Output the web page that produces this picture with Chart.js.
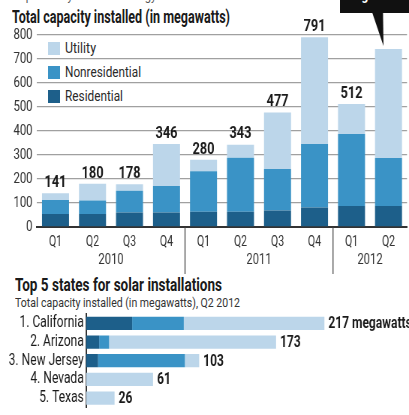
<!DOCTYPE html>
<html>
<head>
<meta charset="utf-8">
<script src="https://cdn.jsdelivr.net/npm/chart.js@4.4.1/dist/chart.umd.min.js"></script>
<style>
  html,body{margin:0;padding:0;background:#fff;overflow:hidden;width:409px;height:415px;}
  body{position:relative;font-family:Roboto,'Liberation Sans',sans-serif;color:#222;}
  .abs{position:absolute;white-space:nowrap;transform-origin:0 50%;}
  canvas{position:absolute;left:0;}
  .sq{position:absolute;width:12px;height:13px;}
  .lg{position:absolute;font-size:15px;line-height:15px;color:#2a2a2a;white-space:nowrap;transform-origin:0 50%;}
</style>
</head>
<body>
<div class="abs" data-w="257" style="left:13px;top:-11px;font-size:13px;line-height:13px;color:#555;">Reported by the Solar Energy Industries Association</div>
<div class="abs" data-w="218" style="left:12px;top:7px;font-size:18px;line-height:20px;font-weight:bold;color:#1a1a1a;">Total capacity installed (in megawatts)</div>
<div class="abs" style="left:340px;top:-34px;width:80px;height:47px;background:#111;"></div>
<div class="abs" data-w="58" style="left:345px;top:-13px;color:#fff;font-weight:bold;font-size:14px;line-height:17px;">megawatts</div>
<div class="sq" style="left:48px;top:42px;background:#bcd6ea;"></div>
<div class="lg" data-w="31" style="left:65px;top:41px;">Utility</div>
<div class="sq" style="left:48px;top:66px;background:#3a93c6;"></div>
<div class="lg" data-w="76" style="left:65px;top:65px;">Nonresidential</div>
<div class="sq" style="left:48px;top:90px;background:#1d5f8a;"></div>
<div class="lg" data-w="58" style="left:65px;top:89px;">Residential</div>
<div class="abs" data-w="207" style="left:15px;top:274px;font-size:19px;line-height:22px;font-weight:bold;color:#1a1a1a;">Top 5 states for solar installations</div>
<div class="abs" data-w="225" style="left:15px;top:295px;font-size:13px;line-height:15px;color:#333;">Total capacity installed (in megawatts), Q2 2012</div>
<canvas id="c1" width="545" height="275" style="top:0;width:409px;height:275px;"></canvas>
<canvas id="c2" width="545" height="120" style="top:300px;width:409px;height:120px;"></canvas>
<script>
// ---- Data: quarterly capacity ----
const quarters = ['Q1','Q2','Q3','Q4','Q1','Q2','Q3','Q4','Q1','Q2'];
const years = ['2010','2011','2012'];
const yearSpans = [[0,3],[4,7],[8,9]];
const residential    = [54, 54, 60, 60, 64, 64, 69, 81, 88, 88];
const nonresidential = [58, 56, 91, 111, 168, 225, 173, 265, 299, 199];
const utility        = [29, 70, 27, 175, 48, 54, 235, 445, 125, 455];
const totalLabels    = ['141','180','178','346','280','343','477','791','512',null];
const yTicks = [0,100,200,300,400,500,600,700,800];

// ---- Data: top 5 states ----
const states = ['1. California','2. Arizona','3. New Jersey','4. Nevada','5. Texas'];
const stateRes   = [42, 12, 11, 0, 0];
const stateNon   = [47, 9, 79, 0, 0];
const stateUtil  = [128, 152, 13, 61, 26];
const stateLabels = ['217 megawatts','173','103','61','26'];

// fit condensed-looking HTML text
document.querySelectorAll('[data-w]').forEach(el => {
  const w = el.getBoundingClientRect().width;
  el.style.transform = 'scaleX(' + (parseFloat(el.dataset.w) / w) + ')';
});

const K = 409 / 545; // horizontal condensation of canvases
const C_UTIL = '#bcd6ea', C_NON = '#3a93c6', C_RES = '#1d5f8a';
const FONT = "Roboto,'Liberation Sans',sans-serif";
Chart.defaults.font.family = FONT;
Chart.defaults.animation = false;

const topPlugin = {
  id: 'topDecor',
  afterDatasetsDraw(chart) {
    const ctx = chart.ctx, x = chart.scales.x, y = chart.scales.y;
    ctx.save();
    ctx.fillStyle = '#1a1a1a';
    ctx.font = 'bold 17px ' + FONT;
    ctx.textAlign = 'center';
    ctx.textBaseline = 'bottom';
    quarters.forEach((q, i) => {
      if (!totalLabels[i]) return;
      const tot = residential[i] + nonresidential[i] + utility[i];
      ctx.fillText(totalLabels[i], x.getPixelForValue(i), y.getPixelForValue(tot) - 2);
    });
    ctx.font = '15px ' + FONT;
    ctx.fillStyle = '#333';
    ctx.textBaseline = 'middle';
    yearSpans.forEach((s, k) => {
      const cx = (x.getPixelForValue(s[0]) + x.getPixelForValue(s[1])) / 2;
      ctx.fillText(years[k], cx, 260);
      if (k > 0) {
        const sx = (x.getPixelForValue(s[0] - 1) + x.getPixelForValue(s[0])) / 2;
        ctx.strokeStyle = '#444';
        ctx.lineWidth = 1.3;
        ctx.beginPath();
        ctx.moveTo(sx, y.getPixelForValue(0));
        ctx.lineTo(sx, 274);
        ctx.stroke();
      }
    });
    // callout pointer
    const last = quarters.length - 1;
    const tipX = x.getPixelForValue(last) - 5 / K;
    const tipY = y.getPixelForValue(residential[last] + nonresidential[last] + utility[last]) - 3;
    ctx.fillStyle = '#111';
    ctx.beginPath();
    ctx.moveTo(372 / K, 12);
    ctx.lineTo(383 / K, 12);
    ctx.lineTo(tipX, tipY);
    ctx.closePath();
    ctx.fill();
    ctx.restore();
  }
};

new Chart(document.getElementById('c1'), {
  type: 'bar',
  data: {
    labels: quarters,
    datasets: [
      { label: 'Residential', data: residential, backgroundColor: C_RES },
      { label: 'Nonresidential', data: nonresidential, backgroundColor: C_NON },
      { label: 'Utility', data: utility, backgroundColor: C_UTIL }
    ]
  },
  options: {
    responsive: false,
    devicePixelRatio: 1,
    layout: { padding: { top: 35, right: 2 / K, left: 0, bottom: 0 } },
    plugins: { legend: { display: false }, tooltip: { enabled: false } },
    datasets: { bar: { barPercentage: 0.73, categoryPercentage: 1.0 } },
    scales: {
      x: {
        stacked: true,
        grid: { display: false, drawTicks: false },
        border: { display: true, color: '#333', width: 2 },
        ticks: { color: '#333', font: { size: 14 }, padding: 7, maxRotation: 0, autoSkip: false },
        afterFit(s) { s.height = 48; }
      },
      y: {
        stacked: true,
        min: 0, max: 800,
        afterBuildTicks(s) { s.ticks = yTicks.map(v => ({ value: v })); },
        grid: { color: '#a0a0a0', lineWidth: 1.3, drawTicks: false },
        border: { display: false },
        ticks: { color: '#333', font: { size: 15 }, padding: 6 },
        afterFit(s) { s.width = 37 / K; }
      }
    }
  },
  plugins: [topPlugin]
});

const botPlugin = {
  id: 'botDecor',
  afterDatasetsDraw(chart) {
    const ctx = chart.ctx, x = chart.scales.x, y = chart.scales.y;
    ctx.save();
    ctx.fillStyle = '#1a1a1a';
    ctx.font = 'bold 16px ' + FONT;
    ctx.textAlign = 'left';
    ctx.textBaseline = 'middle';
    states.forEach((s, i) => {
      const tot = stateRes[i] + stateNon[i] + stateUtil[i];
      ctx.fillText(stateLabels[i], x.getPixelForValue(tot) + 4 / K, y.getPixelForValue(i) + 1);
    });
    ctx.restore();
  }
};

new Chart(document.getElementById('c2'), {
  type: 'bar',
  data: {
    labels: states,
    datasets: [
      { label: 'Residential', data: stateRes, backgroundColor: C_RES },
      { label: 'Nonresidential', data: stateNon, backgroundColor: C_NON },
      { label: 'Utility', data: stateUtil, backgroundColor: C_UTIL }
    ]
  },
  options: {
    indexAxis: 'y',
    responsive: false,
    devicePixelRatio: 1,
    layout: { padding: { top: 14, right: 0, left: 0, bottom: 4 } },
    plugins: { legend: { display: false }, tooltip: { enabled: false } },
    datasets: { bar: { barPercentage: 0.71, categoryPercentage: 1.0 } },
    scales: {
      x: { stacked: true, min: 0, max: 294, display: false },
      y: {
        stacked: true,
        grid: { display: false, drawTicks: false },
        border: { display: true, color: '#333', width: 2 },
        ticks: { color: '#1a1a1a', font: { size: 16 }, padding: 3, autoSkip: false },
        afterFit(s) { s.width = 86 / K; }
      }
    }
  },
  plugins: [botPlugin]
});
</script>
</body>
</html>
